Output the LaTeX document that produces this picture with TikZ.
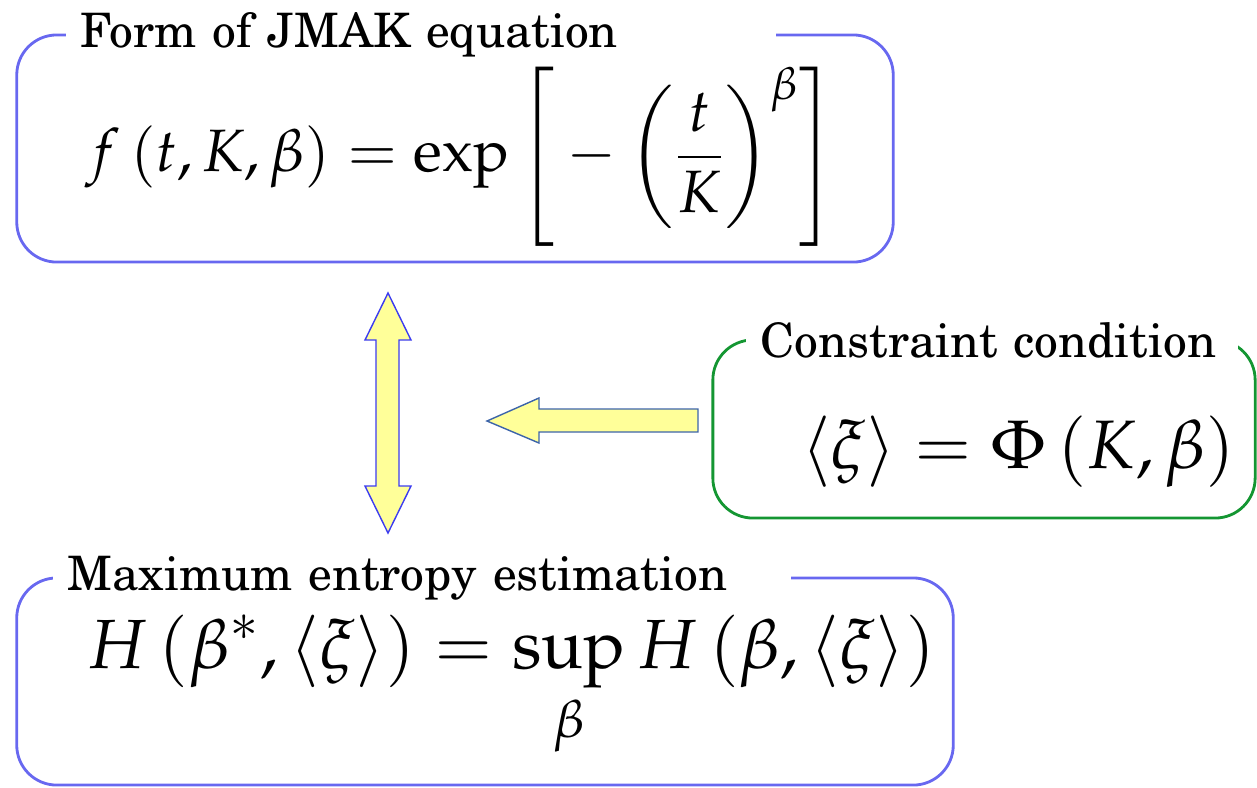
\documentclass[tikz,border=0pt]{standalone}
\usepackage{mathpazo}
\usepackage[T1,TU]{fontenc}
\usepackage{tikz}

\definecolor{boxblue}{RGB}{104,104,240}
\definecolor{boxgreen}{RGB}{20,150,50}
\definecolor{arrowfill}{RGB}{255,255,153}
\definecolor{arrowblue}{RGB}{60,60,240}
\definecolor{arrowsteel}{RGB}{60,100,170}

\tikzset{
  framebox/.style={draw, rounded corners=0.4cm, line width=0.8pt, inner sep=0pt},
  titlebox/.style={fill=white, anchor=west, inner xsep=0.15cm, inner ysep=1pt, align=left,
    font=\fontencoding{T1}\fontfamily{pnc}\fontsize{13.5}{15}\selectfont},
  eqnode/.style={inner sep=0pt},
  blockarrow/.style={fill=arrowfill, line width=0.4pt, line join=miter}
}

\begin{document}
\begin{tikzpicture}[x=0.01cm, y=-0.01cm]
\useasboundingbox (0,0) rectangle (1257,787);

% the three frames
\node[framebox, draw=boxblue, minimum width=8.76cm, minimum height=2.27cm] (jmak) at (455,148.5) {};
\node[framebox, draw=boxgreen, minimum width=5.42cm, minimum height=1.78cm] (constraint) at (984,429) {};
\node[framebox, draw=boxblue, minimum width=9.36cm, minimum height=2.07cm] (entropy) at (485,681.5) {};

% titles breaking the top lines
\node[titlebox, text width=6.8cm] (jmaktitle) at (65,35) {Form of JMAK equation};
\node[titlebox, text width=4.62cm] (constrainttitle) at (745,340) {Constraint condition};
\node[titlebox, text width=7.08cm] (entropytitle) at (52,578) {Maximum entropy estimation};

% equations
\node[eqnode, font=\fontsize{17}{20}\selectfont] (jmakeq) at (461,157)
  {$\displaystyle f\left(t,K,\beta\right)=\exp\left[\rule[-1.3em]{0pt}{3.1em}-\left(\rule[-0.95em]{0pt}{2.45em}\frac{t}{K}\right)^{\beta}\right]$};
\node[eqnode, font=\fontsize{19.5}{24}\selectfont] (constrainteq) at (1018,452)
  {$\left\langle\xi\right\rangle=\Phi\left(K,\beta\right)$};
\node[eqnode, font=\fontsize{19.8}{24}\selectfont] (entropyeq) at (511,687)
  {$\displaystyle H\left(\beta^{*},\left\langle\xi\right\rangle\right)=\sup_{\beta}H\left(\beta,\left\langle\xi\right\rangle\right)$};

% block arrows
\draw[blockarrow, draw=arrowblue] (388,293) -- (411,340) -- (399,340) -- (399,486) -- (411,486)
  -- (388,533) -- (365,486) -- (376,486) -- (376,340) -- (365,340) -- cycle;
\draw[blockarrow, draw=arrowsteel] (487,421) -- (539,398) -- (539,409) -- (698,409)
  -- (698,432) -- (539,432) -- (539,443) -- cycle;
\end{tikzpicture}
\end{document}
